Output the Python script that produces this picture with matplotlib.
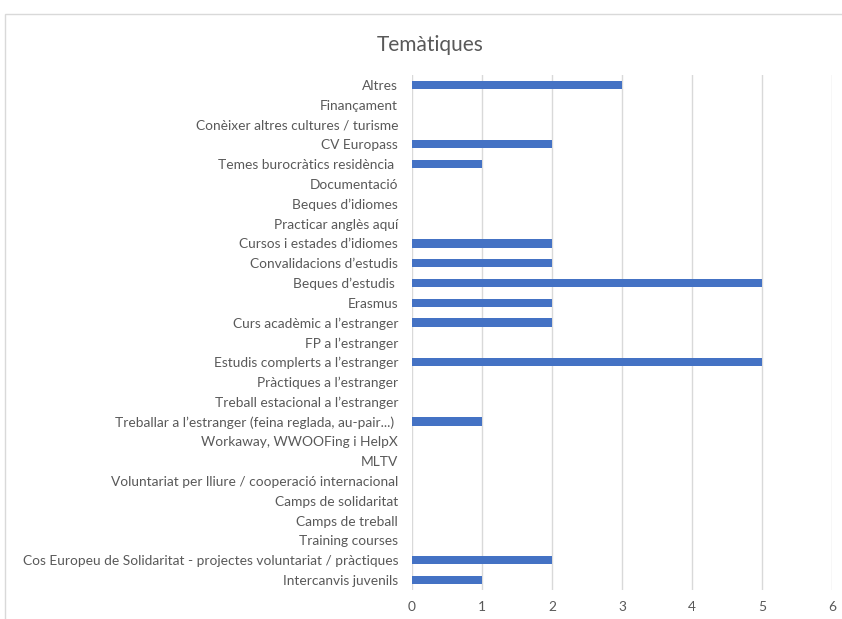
import matplotlib
matplotlib.use("Agg")
import matplotlib.pyplot as plt
from matplotlib.patches import Rectangle

categories = [
    "Altres",
    "Finançament",
    "Conèixer altres cultures / turisme",
    "CV Europass",
    "Temes burocràtics residència ",
    "Documentació",
    "Beques d’idiomes",
    "Practicar anglès aquí",
    "Cursos i estades d’idiomes",
    "Convalidacions d’estudis",
    "Beques d’estudis ",
    "Erasmus",
    "Curs acadèmic a l’estranger",
    "FP a l’estranger",
    "Estudis complerts a l’estranger",
    "Pràctiques a l’estranger",
    "Treball estacional a l’estranger",
    "Treballar a l’estranger (feina reglada, au-pair...) ",
    "Workaway, WWOOFing i HelpX",
    "MLTV",
    "Voluntariat per lliure / cooperació internacional",
    "Camps de solidaritat",
    "Camps de treball",
    "Training courses",
    "Cos Europeu de Solidaritat - projectes voluntariat / pràctiques",
    "Intercanvis juvenils",
]
values = [3, 0, 0, 2, 1, 0, 0, 0, 2, 2, 5, 2, 2, 0, 5, 0, 0, 1, 0, 0, 0, 0, 0, 0, 2, 1]
x_ticks = [0, 1, 2, 3, 4, 5, 6]
title = "Temàtiques"

plt.rcParams['font.family'] = ['Lato', 'DejaVu Sans']
text_color = "#595959"

W, H = 842, 619
fig = plt.figure(figsize=(W / 100, H / 100), dpi=100)
fig.patch.set_facecolor("white")

# chart border
fig.patches.append(Rectangle((5 / W, -0.1), 1.2, 1 - 14 / H + 0.1, transform=fig.transFigure,
                             fill=False, edgecolor="#D9D9D9", linewidth=1.0))

left, right = 412 / W, 832 / W
top, bottom = 1 - 75 / H, 1 - 590 / H
ax = fig.add_axes([left, bottom, right - left, top - bottom])

n = len(categories)
ypos = list(range(n))
ax.barh(ypos, values, height=0.42, color="#4472C4", zorder=3)
ax.set_ylim(n - 0.5, -0.5)
ax.set_xlim(0, 6)
ax.set_yticks(ypos)
ax.set_yticklabels(categories, fontsize=9.9, color=text_color)
ax.set_xticks(x_ticks)
ax.set_xticklabels([str(t) for t in x_ticks], fontsize=9.9, color=text_color)
ax.tick_params(axis="both", length=0)
ax.tick_params(axis="y", pad=10)
ax.tick_params(axis="x", pad=8)
ax.grid(axis="x", color="#D9D9D9", linewidth=1.0, zorder=0)
for s in ax.spines.values():
    s.set_visible(False)

fig.text(430 / W, 1 - 45 / H, title, ha="center", va="center", fontsize=15, color=text_color)

fig.savefig("out.png", dpi=100, facecolor="white")
